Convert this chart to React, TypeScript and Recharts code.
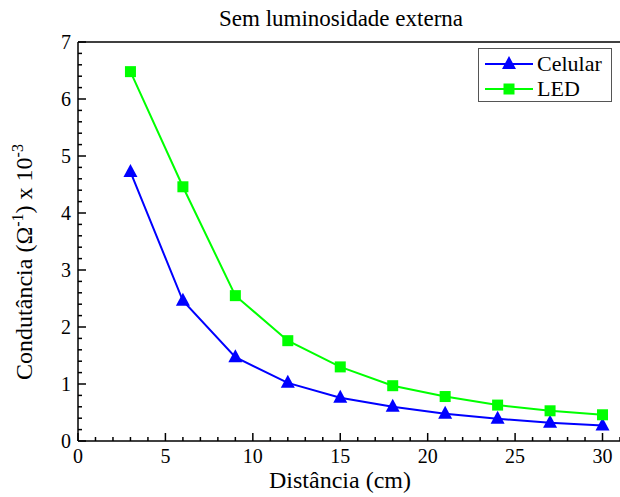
import React from 'react';
import {
  LineChart,
  Line,
  XAxis,
  YAxis,
  ReferenceLine,
  Legend,
  Label
} from 'recharts';

const distances = [3, 6, 9, 12, 15, 18, 21, 24, 27, 30];
const celular = [4.72, 2.46, 1.47, 1.02, 0.76, 0.6, 0.48, 0.39, 0.32, 0.27];
const led = [6.48, 4.46, 2.55, 1.76, 1.3, 0.97, 0.78, 0.63, 0.53, 0.46];

const xMajor = [0, 5, 10, 15, 20, 25, 30];
const yMajor = [0, 1, 2, 3, 4, 5, 6, 7];

// minor ticks: every 1 cm on x, every 0.2 on y
const xTicks = Array.from({ length: 32 }, (_, i) => i);
const yTicks = Array.from({ length: 36 }, (_, i) => Math.round(i * 2) / 10);

const data = distances.map((d, i) => ({ d, celular: celular[i], led: led[i] }));

const BLUE = '#0000ff';
const GREEN = '#00ff00';
const FONT = '"Liberation Serif", "Times New Roman", serif';

const Triangle = ({ cx, cy, fill }: any) => {
  if (cx == null || cy == null) return null;
  return <polygon points={`${cx},${cy - 8} ${cx - 7},${cy + 5} ${cx + 7},${cy + 5}`} fill={fill} />;
};

const Square = ({ cx, cy, fill }: any) => {
  if (cx == null || cy == null) return null;
  return <rect x={cx - 5.5} y={cy - 5.5} width={11} height={11} fill={fill} />;
};

const XTick = ({ x, y, payload }: any) => {
  const major = xMajor.includes(payload.value);
  return (
    <g>
      <line x1={x} y1={y} x2={x} y2={y - (major ? 8 : 4)} stroke="#000" strokeWidth={1.5} />
      {major && (
        <text x={x} y={y + 22} textAnchor="middle" fontSize={20} fontFamily={FONT} fill="#000">
          {payload.value}
        </text>
      )}
    </g>
  );
};

const YTick = ({ x, y, payload }: any) => {
  const major = yMajor.includes(payload.value);
  return (
    <g>
      <line x1={x} y1={y} x2={x + (major ? 8 : 4)} y2={y} stroke="#000" strokeWidth={1.5} />
      {major && (
        <text x={x - 7} y={y} dy="0.35em" textAnchor="end" fontSize={20} fontFamily={FONT} fill="#000">
          {payload.value}
        </text>
      )}
    </g>
  );
};

const YLabel = () => (
  <text
    x={32}
    y={262}
    transform="rotate(-90 32 262)"
    textAnchor="middle"
    fontSize={24}
    fontFamily={FONT}
    fill="#000"
  >
    Condutância (Ω
    <tspan fontSize={16} dy={-9}>-1</tspan>
    <tspan dy={9}>) x 10</tspan>
    <tspan fontSize={16} dy={-9}>-3</tspan>
  </text>
);

const XLabel = () => (
  <text x={340} y={488} textAnchor="middle" fontSize={24} fontFamily={FONT} fill="#000">
    Distância (cm)
  </text>
);

const LegendBox = () => {
  const rows = [
    { name: 'Celular', color: BLUE, shape: 'tri' },
    { name: 'LED', color: GREEN, shape: 'sq' },
  ];
  return (
    <div
      style={{
        width: 134,
        height: 54,
        border: '1px solid #555',
        background: '#fff',
        fontFamily: FONT,
        fontSize: 22,
        boxSizing: 'border-box',
        paddingTop: 2,
      }}
    >
      {rows.map((r) => (
        <div key={r.name} style={{ display: 'flex', alignItems: 'center', height: 25 }}>
          <svg width={58} height={20} style={{ display: 'block' }}>
            <line x1={6} y1={10} x2={54} y2={10} stroke={r.color} strokeWidth={2} />
            {r.shape === 'tri' ? (
              <polygon points="30,2 23,15 37,15" fill={r.color} />
            ) : (
              <rect x={24.5} y={4.5} width={11} height={11} fill={r.color} />
            )}
          </svg>
          <span style={{ lineHeight: 1 }}>{r.name}</span>
        </div>
      ))}
    </div>
  );
};

const App: React.FC = () => {
  return (
    <div style={{ position: 'absolute', left: 0, top: 0, width: 620, height: 497, background: '#fff' }}>
      <div
        style={{
          position: 'absolute',
          left: 141,
          width: 400,
          top: 7,
          textAlign: 'center',
          fontFamily: FONT,
          fontSize: 23,
          lineHeight: 1,
        }}
      >
        Sem luminosidade externa
      </div>
      <LineChart width={620} height={497} data={data} margin={{ top: 42, right: 0, bottom: 55, left: 77 }}>
        <XAxis
          dataKey="d"
          type="number"
          domain={[0, 31]}
          ticks={xTicks}
          interval={0}
          height={1}
          tickSize={0}
          tickMargin={0}
          tickLine={false}
          tick={<XTick />}
          axisLine={{ stroke: '#000', strokeWidth: 1.5 }}
          allowDataOverflow
        >
          <Label content={<XLabel />} />
        </XAxis>
        <YAxis
          type="number"
          domain={[0, 7]}
          ticks={yTicks}
          interval={0}
          width={1}
          tickSize={0}
          tickMargin={0}
          tickLine={false}
          tick={<YTick />}
          axisLine={{ stroke: '#000', strokeWidth: 1.5 }}
          allowDataOverflow
        >
          <Label content={<YLabel />} />
        </YAxis>
        <ReferenceLine y={7} stroke="#000" strokeWidth={1.5} />
        <Legend
          layout="vertical"
          align="center"
          verticalAlign="middle"
          content={<LegendBox />}
          wrapperStyle={{ position: 'absolute', left: 478, top: 48, width: 134, height: 54 }}
        />
        <Line
          name="Celular"
          dataKey="celular"
          stroke={BLUE}
          strokeWidth={2}
          dot={<Triangle fill={BLUE} />}
          isAnimationActive={false}
        />
        <Line
          name="LED"
          dataKey="led"
          stroke={GREEN}
          strokeWidth={2}
          dot={<Square fill={GREEN} />}
          isAnimationActive={false}
        />
      </LineChart>
    </div>
  );
};

export default App;
